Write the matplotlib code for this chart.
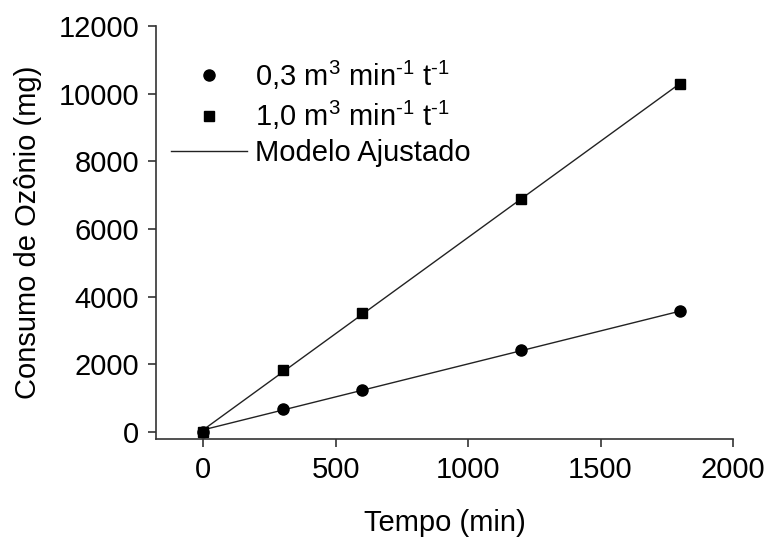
import matplotlib
matplotlib.use('Agg')
import matplotlib.pyplot as plt
import numpy as np

plt.rcParams['font.family'] = ['Liberation Sans', 'DejaVu Sans']
plt.rcParams['mathtext.fontset'] = 'custom'
plt.rcParams['mathtext.rm'] = 'Liberation Sans'
plt.rcParams['mathtext.it'] = 'Liberation Sans'
plt.rcParams['axes.unicode_minus'] = False

# dados
tempo = [0, 300, 600, 1200, 1800]
vazao_03 = [0, 670, 1250, 2410, 3570]
vazao_10 = [0, 1830, 3525, 6900, 10300]

# modelo ajustado (pontos extremos)
tempo_modelo = [0, 1800]
modelo_03 = [60, 3570]
modelo_10 = [60, 10300]

fig = plt.figure(figsize=(7.66, 5.37), dpi=100)
ax = fig.add_axes([156/766, 1 - 439/537, (733 - 156)/766, (439 - 26)/537])

ax.plot(tempo_modelo, modelo_03, color='#222222', lw=1.0, label='Modelo Ajustado')
ax.plot(tempo_modelo, modelo_10, color='#222222', lw=1.0)
l1, = ax.plot(tempo, vazao_03, 'o', color='black', ms=8,
              label=r'0,3 m$^{3}$ min$^{\text{-}1}$ t$^{\text{-}1}$')
l2, = ax.plot(tempo, vazao_10, 's', color='black', ms=7,
              label=r'1,0 m$^{3}$ min$^{\text{-}1}$ t$^{\text{-}1}$')

ax.set_xlim(-178, 2000)
ax.set_ylim(-210, 12000)
ax.set_xticks([0, 500, 1000, 1500, 2000])
ax.set_yticks(np.arange(0, 12001, 2000))
ax.spines['top'].set_visible(False)
ax.spines['right'].set_visible(False)
for s in ['left', 'bottom']:
    ax.spines[s].set_linewidth(1.2)
    ax.spines[s].set_color('#333333')
ax.tick_params(direction='out', length=6, width=1.2, color='#333333', labelsize=21, pad=6)
ax.set_xlabel('Tempo (min)', fontsize=21, labelpad=18)
ax.set_ylabel('Consumo de Ozônio (mg)', fontsize=21, labelpad=12)

h, lab = ax.get_legend_handles_labels()
ax.legend([l1, l2, h[0]], [lab[1], lab[2], lab[0]], loc='upper left',
          bbox_to_anchor=(-0.02, 0.985), frameon=False, fontsize=21,
          handlelength=2.6, labelspacing=0.25, handletextpad=0.3)

fig.savefig('out.png', dpi=100)
